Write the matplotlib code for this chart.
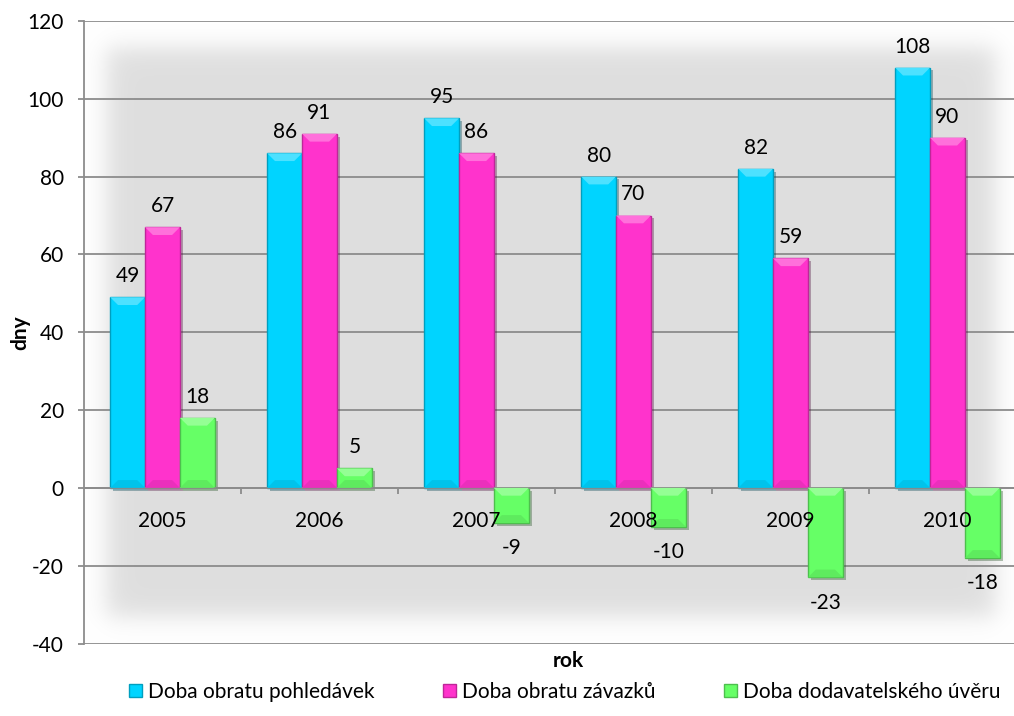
import numpy as np
import matplotlib
matplotlib.use("Agg")
import matplotlib.pyplot as plt
import matplotlib.patheffects as pe
from matplotlib.patches import Polygon
from matplotlib.colors import to_rgb

plt.rcParams['font.family'] = ['Lato', 'DejaVu Sans']
plt.rcParams['axes.unicode_minus'] = False

# data
years = ['2005', '2006', '2007', '2008', '2009', '2010']
pohledavky = [49, 86, 95, 80, 82, 108]
zavazky = [67, 91, 86, 70, 59, 90]
dodavatelsky = [18, 5, -9, -10, -23, -18]
series_names = ['Doba obratu pohledávek', 'Doba obratu závazků', 'Doba dodavatelského úvěru']
series_colors = ['#00D4FF', '#FF33CC', '#66FF66']

FS = 15


def shade(color, f):
    r, g, b = to_rgb(color)
    if f >= 0:
        return (r + (1 - r) * f, g + (1 - g) * f, b + (1 - b) * f)
    return (r * (1 + f), g * (1 + f), b * (1 + f))


fig = plt.figure(figsize=(10.14, 7.16), dpi=100)
fig.patch.set_facecolor('white')
ax = fig.add_axes([84 / 1014, 72.5 / 716, 942 / 1014, 622.5 / 716])
ax.set_facecolor('none')

ax.set_xlim(-0.5, 5.5)
ax.set_ylim(-40, 120)

# soft grey panel behind the bars
nx, ny = 600, 400
gx = np.linspace(84, 1026, nx)
gy = np.linspace(21, 643.5, ny)
def ramp(v, a, b, s):
    return 1 / (1 + np.exp(-(v - a) / s)) * 1 / (1 + np.exp((v - b) / s))
mask = np.outer(ramp(gy, 48, 618, 7), ramp(gx, 106, 996, 7))
grey = 1 - (1 - 0.872) * mask
img = np.dstack([grey, grey, grey])
ax.imshow(img, extent=[-0.5, 5.5, -40, 120], aspect='auto', zorder=0,
          interpolation='bilinear', origin='upper')

# grid and axes
ax.set_axisbelow(True)
ax.set_yticks(np.arange(-40, 121, 20))
ax.yaxis.grid(True, color='#8c8c8c', linewidth=1.3)
for s in ['top', 'right']:
    ax.spines[s].set_visible(False)
ax.spines['left'].set_color('#8c8c8c')
ax.spines['left'].set_linewidth(1.3)
ax.spines['bottom'].set_position(('data', 0))
ax.spines['bottom'].set_color('#8c8c8c')
ax.spines['bottom'].set_linewidth(1.3)
ax.tick_params(axis='y', length=4.5, width=1.3, color='#8c8c8c', pad=10, labelsize=FS)
ax.set_xticks(range(len(years)))
ax.set_xticklabels([])
ax.set_xticks(np.arange(0.5, 5.5, 1), minor=True)
ax.tick_params(axis='x', which='major', length=0)
ax.tick_params(axis='x', which='minor', length=4.5, width=1.3, color='#8c8c8c')

# category labels sit on top of the bars
for i, yr in enumerate(years):
    ax.annotate(yr, (i, 0), xytext=(0, -17), textcoords='offset points',
                ha='center', va='top', fontsize=FS, zorder=5)

# bars with bevel
w = 1 / 4.5
x = np.arange(len(years))
all_series = [pohledavky, zavazky, dodavatelsky]
dx, dy = 0.05, 2.0
for i, (vals, col) in enumerate(zip(all_series, series_colors)):
    pos = x + (i - 1) * w
    bars = ax.bar(pos, vals, width=w, color=col, edgecolor=shade(col, -0.25),
                  linewidth=1.0, zorder=2,
                  path_effects=[pe.SimplePatchShadow(offset=(2, -2), alpha=0.35),
                                pe.Normal()])
    for c, v in zip(pos, vals):
        top, bot = max(v, 0), min(v, 0)
        l, r = c - w / 2, c + w / 2
        ax.add_patch(Polygon([(l, top), (r, top), (r - dx, top - dy), (l + dx, top - dy)],
                             closed=True, facecolor=shade(col, 0.3), edgecolor='none', zorder=3))
        ax.add_patch(Polygon([(l, bot), (r, bot), (r - dx, bot + dy), (l + dx, bot + dy)],
                             closed=True, facecolor=shade(col, -0.08), edgecolor='none', zorder=3))
        if v >= 0:
            ax.annotate(str(v), (c, v), xytext=(0, 8), textcoords='offset points',
                        ha='center', va='bottom', fontsize=FS)
        else:
            ax.annotate(str(v), (c, v), xytext=(0, -11), textcoords='offset points',
                        ha='center', va='top', fontsize=FS)

fig.text(20 / 1014, 1 - 333 / 716, 'dny', rotation=90, ha='center', va='center',
         fontsize=FS, fontweight='bold')
fig.text(568 / 1014, 1 - 661 / 716, 'rok', ha='center', va='center',
         fontsize=FS, fontweight='bold')

handles = [plt.Rectangle((0, 0), 1, 1, facecolor=c, edgecolor=shade(c, -0.25)) for c in series_colors]
fig.legend(handles, series_names, loc='center', bbox_to_anchor=(565 / 1014, 1 - 692 / 716),
           ncol=3, frameon=False, fontsize=FS, handlelength=0.6, handleheight=0.6,
           handletextpad=0.3, columnspacing=3.3)

fig.savefig('out.png', dpi=100)
